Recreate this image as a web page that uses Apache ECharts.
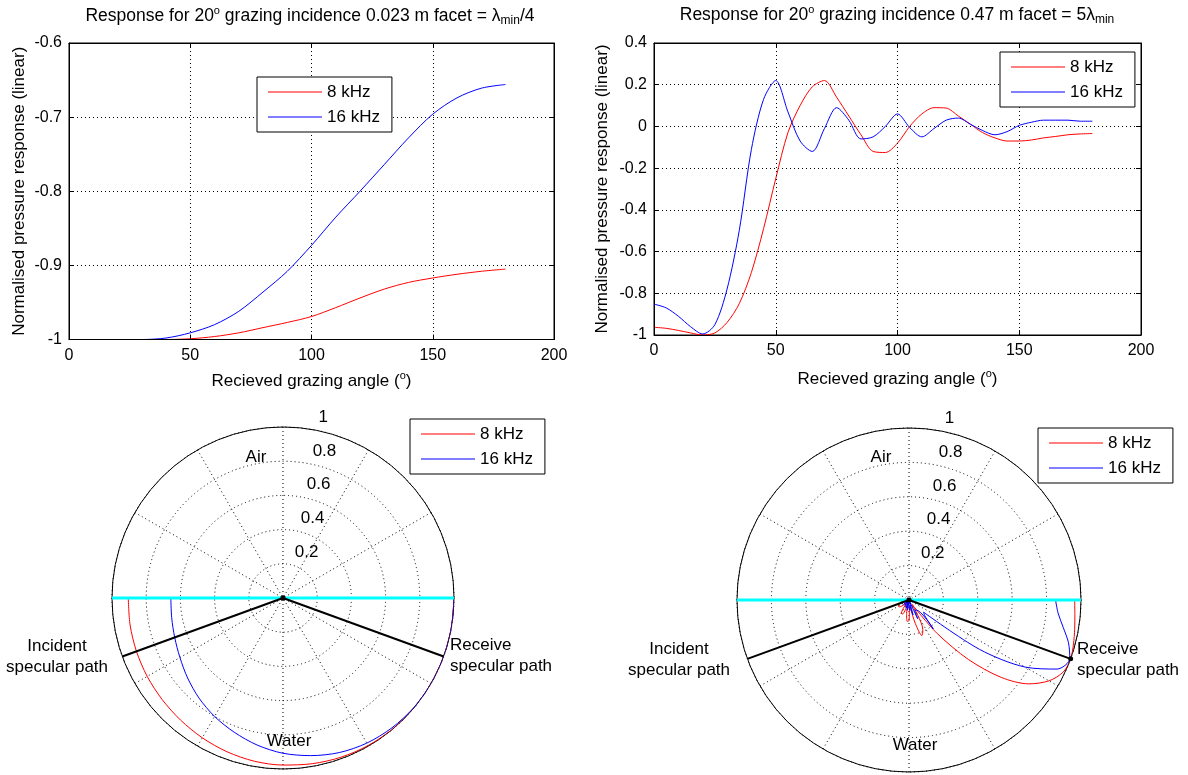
<!DOCTYPE html>
<html>
<head>
<meta charset="utf-8">
<title>Facet response</title>
<script src="https://cdn.jsdelivr.net/npm/echarts@6/dist/echarts.min.js"></script>
<style>
html, body { margin: 0; padding: 0; background: #fff; }
#chart { width: 1188px; height: 775px; }
</style>
</head>
<body>
<div id="chart"></div>
<script>
// received grazing angle (deg) and responses, 0.023 m facet
var anglesShort = [0, 10, 20, 30, 40, 50, 60, 70, 80, 90, 100, 110, 120, 130, 140, 150, 160, 170, 180];
var shortRed = [-1, -1, -1, -1, -1, -0.999, -0.996, -0.991, -0.984, -0.977, -0.969, -0.957, -0.944, -0.932, -0.923, -0.917, -0.912, -0.908, -0.905];
var shortBlue = [-1, -1, -1, -1, -0.998, -0.991, -0.980, -0.962, -0.936, -0.908, -0.873, -0.835, -0.800, -0.764, -0.728, -0.696, -0.674, -0.661, -0.656];

// 0.47 m facet
var anglesLong = [0, 5, 10, 15, 20, 25, 30, 35, 40, 45, 50, 55, 60, 65, 70, 75, 80, 85, 90, 95, 100, 105, 110, 115, 120, 125, 130, 135, 140, 145, 150, 155, 160, 165, 170, 175, 180];
var longRed = [-0.963, -0.968, -0.978, -0.99, -1.0, -0.99, -0.94, -0.85, -0.70, -0.49, -0.25, -0.03, 0.10, 0.19, 0.22, 0.14, 0.05, -0.04, -0.12, -0.125, -0.08, 0.0, 0.06, 0.09, 0.088, 0.05, 0.01, -0.03, -0.055, -0.07, -0.07, -0.065, -0.055, -0.048, -0.04, -0.036, -0.034];
var longBlue = [-0.852, -0.87, -0.91, -0.96, -0.995, -0.95, -0.78, -0.50, -0.11, 0.13, 0.22, 0.07, -0.07, -0.12, -0.01, 0.09, 0.03, -0.06, -0.05, 0.0, 0.06, -0.005, -0.05, -0.01, 0.03, 0.04, 0.01, -0.02, -0.04, -0.025, 0.005, 0.02, 0.03, 0.03, 0.03, 0.025, 0.025];

var seriesNames = ['8 kHz', '16 kHz'];
var surfaceAngles = [180, 360];      // sea surface across the polar plot
var pathAngles = [200, 340];         // incident / receive specular paths (20 deg grazing)

var FONT = "'Liberation Sans', Arial, Helvetica, sans-serif";
var BLACK = '#000';
var DOTS = [1, 3];
var RED = '#ff0000';
var BLUE = '#0000ff';

var supStyle = { fontSize: 11, lineHeight: 12, verticalAlign: 'top', color: BLACK, fontFamily: FONT };
var subStyle = { fontSize: 12, lineHeight: 8, verticalAlign: 'bottom', color: BLACK, fontFamily: FONT };

function pairs(xs, ys) {
    return xs.map(function (x, i) { return [x, ys[i]]; });
}

// polar plot: radius = |response|, angle measured clockwise from the right
function polarPairs(xs, ys) {
    return xs.map(function (x, i) { return [Math.abs(ys[i]), 360 - x]; });
}

function xAxes(gridIndex, nameGap) {
    return [{
        gridIndex: gridIndex, type: 'value', position: 'bottom',
        min: 0, max: 200, interval: 50,
        name: 'Recieved grazing angle ({sup|o})',
        nameLocation: 'middle', nameGap: nameGap,
        nameTextStyle: { color: BLACK, fontSize: 17, lineHeight: 22, fontFamily: FONT, rich: { sup: supStyle } },
        axisLine: { onZero: false, lineStyle: { color: BLACK } },
        axisTick: { inside: true, length: 5, lineStyle: { color: BLACK } },
        axisLabel: { color: BLACK, fontSize: 16, margin: 8 },
        splitLine: { show: true, lineStyle: { color: BLACK, type: DOTS } },
        z: 3
    }, {
        gridIndex: gridIndex, type: 'value', position: 'top',
        min: 0, max: 200, interval: 50,
        axisLine: { onZero: false, lineStyle: { color: BLACK } },
        axisTick: { inside: true, length: 5, lineStyle: { color: BLACK } },
        axisLabel: { show: false },
        splitLine: { show: false }
    }];
}

function yAxes(gridIndex, min, max, interval, nameGap) {
    return [{
        gridIndex: gridIndex, type: 'value', position: 'left',
        min: min, max: max, interval: interval,
        name: 'Normalised pressure response (linear)',
        nameLocation: 'middle', nameGap: nameGap,
        nameTextStyle: { color: BLACK, fontSize: 17, fontFamily: FONT },
        axisLine: { show: true, onZero: false, lineStyle: { color: BLACK } },
        axisTick: { show: true, inside: true, length: 5, lineStyle: { color: BLACK } },
        axisLabel: { color: BLACK, fontSize: 16, margin: 7 },
        splitLine: { show: true, lineStyle: { color: BLACK, type: DOTS } }
    }, {
        gridIndex: gridIndex, type: 'value', position: 'right',
        min: min, max: max, interval: interval,
        axisLine: { show: true, onZero: false, lineStyle: { color: BLACK } },
        axisTick: { show: true, inside: true, length: 5, lineStyle: { color: BLACK } },
        axisLabel: { show: false },
        splitLine: { show: false }
    }];
}

function legendAt(left, top) {
    return {
        data: seriesNames, orient: 'vertical', left: left, top: top,
        icon: 'rect', itemWidth: 54, itemHeight: 1, itemGap: 7,
        padding: [6, 12, 6, 11],
        borderColor: BLACK, borderWidth: 1, backgroundColor: '#fff',
        selectedMode: false,
        textStyle: { color: BLACK, fontSize: 17, lineHeight: 18, fontFamily: FONT }
    };
}

function gridAngle(i) {
    return {
        polarIndex: i, type: 'value', min: 90, max: 450, interval: 30,
        startAngle: 90, clockwise: false,
        axisLine: { show: true, lineStyle: { color: BLACK, width: 1 } },
        axisTick: { show: false }, axisLabel: { show: false },
        splitLine: { show: true, lineStyle: { color: BLACK, type: DOTS } }
    };
}

function labelAngle(i) {
    return {
        polarIndex: i, type: 'value', min: 0, max: 360,
        startAngle: 80, clockwise: false,
        axisLine: { show: false }, axisTick: { show: false },
        axisLabel: { show: false }, splitLine: { show: false }
    };
}

function gridRadius(i) {
    return {
        polarIndex: i, type: 'value', min: 0, max: 1, interval: 0.2,
        axisLine: { show: false }, axisTick: { show: false }, axisLabel: { show: false },
        splitLine: { show: true, lineStyle: { color: BLACK, type: DOTS } }
    };
}

function labelRadius(i) {
    return {
        polarIndex: i, type: 'value', min: 0, max: 1, interval: 0.2,
        axisLine: { show: false }, axisTick: { show: false }, splitLine: { show: false },
        axisLabel: {
            show: true, showMinLabel: false, margin: -6,
            align: 'left', verticalAlign: 'bottom', padding: [0, 0, 5, 0],
            color: BLACK, fontSize: 17, fontFamily: FONT
        }
    };
}

function lineSeries(name, color, data, extra) {
    var s = {
        name: name, type: 'line', data: data,
        showSymbol: false, smooth: 0.3, silent: true,
        lineStyle: { color: color, width: 1 },
        itemStyle: { color: color },
        z: 2
    };
    for (var k in extra) s[k] = extra[k];
    return s;
}

function polarDecor(polarIndex) {
    return [{
        name: 'surface', type: 'line', coordinateSystem: 'polar', polarIndex: polarIndex,
        data: surfaceAngles.map(function (a) { return [1, a]; }),
        showSymbol: false, silent: true,
        lineStyle: { color: '#00ffff', width: 3 }, z: 4
    }, {
        name: 'paths', type: 'line', coordinateSystem: 'polar', polarIndex: polarIndex,
        data: [[1, pathAngles[0]], [0, pathAngles[0]], [1, pathAngles[1]]],
        symbol: 'circle', symbolSize: 5, silent: true,
        itemStyle: { color: BLACK },
        lineStyle: { color: BLACK, width: 2 }, z: 5
    }];
}

function text(x, y, str, align, extra) {
    var style = {
        text: str, fill: BLACK, fontSize: 17, fontFamily: FONT,
        align: align, verticalAlign: 'middle', lineHeight: 21
    };
    for (var k in extra) style[k] = extra[k];
    return { type: 'text', x: x, y: y, z: 10, style: style };
}

var chart = echarts.init(document.getElementById('chart'));

var titleStyle = { fontSize: 17.5, lineHeight: 22, rich: { sup: supStyle, sub: subStyle } };

var option = {
    animation: false,
    backgroundColor: '#fff',
    textStyle: { fontFamily: FONT },
    grid: [
        { left: 69, top: 43, width: 485, height: 296.5, show: true, borderColor: BLACK, borderWidth: 1, backgroundColor: '#fff', outerBoundsMode: 'none' },
        { left: 654, top: 43, width: 487, height: 292, show: true, borderColor: BLACK, borderWidth: 1, backgroundColor: '#fff', outerBoundsMode: 'none' }
    ],
    xAxis: xAxes(0, 31).concat(xAxes(1, 33)),
    yAxis: yAxes(0, -1, -0.6, 0.1, 41).concat(yAxes(1, -1, 0.4, 0.2, 43)),
    polar: [
        { center: [283, 598], radius: 171 },
        { center: [283, 598], radius: 171 },
        { center: [909, 600], radius: 172 },
        { center: [909, 600], radius: 172 }
    ],
    angleAxis: [gridAngle(0), labelAngle(1), gridAngle(2), labelAngle(3)],
    radiusAxis: [gridRadius(0), labelRadius(1), gridRadius(2), labelRadius(3)],
    legend: [
        legendAt(257, 77),
        legendAt(1000, 52),
        legendAt(410, 419),
        legendAt(1038, 428)
    ],
    graphic: [
        text(310, 16, 'Response for 20{sup|o} grazing incidence 0.023 m facet = λ{sub|min}/4', 'center', titleStyle),
        text(897, 15, 'Response for 20{sup|o} grazing incidence 0.47 m facet = 5λ{sub|min}', 'center', titleStyle),
        text(256, 457, 'Air', 'center'),
        text(289, 741, 'Water', 'center'),
        text(57, 657, 'Incident\nspecular path', 'center'),
        text(450, 656, 'Receive\nspecular path', 'left'),
        text(881, 457, 'Air', 'center'),
        text(915, 745, 'Water', 'center'),
        text(679, 660, 'Incident\nspecular path', 'center'),
        text(1077, 660, 'Receive\nspecular path', 'left')
    ],
    series: [
        lineSeries(seriesNames[0], RED, pairs(anglesShort, shortRed), { xAxisIndex: 0, yAxisIndex: 0 }),
        lineSeries(seriesNames[1], BLUE, pairs(anglesShort, shortBlue), { xAxisIndex: 0, yAxisIndex: 0 }),
        lineSeries(seriesNames[0], RED, pairs(anglesLong, longRed), { xAxisIndex: 2, yAxisIndex: 2 }),
        lineSeries(seriesNames[1], BLUE, pairs(anglesLong, longBlue), { xAxisIndex: 2, yAxisIndex: 2 }),
        lineSeries(seriesNames[0], RED, polarPairs(anglesShort, shortRed), { coordinateSystem: 'polar', polarIndex: 0 }),
        lineSeries(seriesNames[1], BLUE, polarPairs(anglesShort, shortBlue), { coordinateSystem: 'polar', polarIndex: 0 }),
        lineSeries(seriesNames[0], RED, polarPairs(anglesLong, longRed), { coordinateSystem: 'polar', polarIndex: 2 }),
        lineSeries(seriesNames[1], BLUE, polarPairs(anglesLong, longBlue), { coordinateSystem: 'polar', polarIndex: 2 })
    ].concat(polarDecor(0), polarDecor(2))
};

chart.setOption(option);
</script>
</body>
</html>
